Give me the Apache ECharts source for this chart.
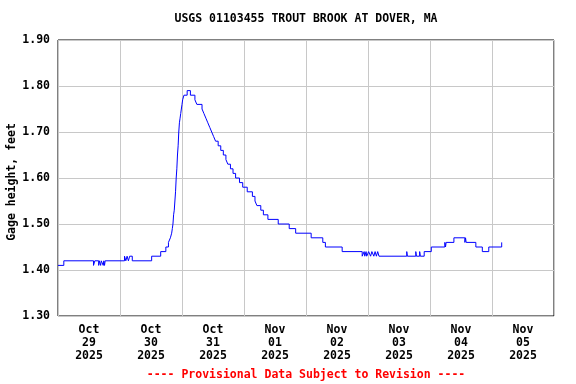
<!DOCTYPE html>
<html>
<head>
<meta charset="utf-8">
<script src="https://cdn.jsdelivr.net/npm/echarts@6/dist/echarts.min.js"></script>
<style>html,body{margin:0;padding:0;background:#fff}#c{width:576px;height:384px}</style>
</head>
<body>
<div id="c"></div>
<script>
const titleText = 'USGS 01103455 TROUT BROOK AT DOVER, MA';
const footerText = '---- Provisional Data Subject to Revision ----';
const yAxisName = 'Gage height, feet';
const dayLabels = ['Oct\n29\n2025','Oct\n30\n2025','Oct\n31\n2025','Nov\n01\n2025','Nov\n02\n2025','Nov\n03\n2025','Nov\n04\n2025','Nov\n05\n2025'];
const xStart = '2025-10-29 00:00';
const xEnd = '2025-11-06 00:00';
const yTicks = [1.30, 1.40, 1.50, 1.60, 1.70, 1.80, 1.90];

// change points (value holds until next time)
const times = [
'2025-10-29 00:00','2025-10-29 02:15','2025-10-29 13:45','2025-10-29 14:15','2025-10-29 15:45','2025-10-29 16:00',
'2025-10-29 16:30','2025-10-29 16:45','2025-10-29 17:30','2025-10-29 17:45','2025-10-29 18:00','2025-10-29 18:15',
'2025-10-30 01:45','2025-10-30 02:15','2025-10-30 02:45','2025-10-30 03:15','2025-10-30 03:45','2025-10-30 04:45',
'2025-10-30 12:15','2025-10-30 15:45','2025-10-30 17:45','2025-10-30 18:45','2025-10-30 19:30','2025-10-30 20:00',
'2025-10-30 20:15','2025-10-30 20:30','2025-10-30 20:45','2025-10-30 21:00','2025-10-30 21:15','2025-10-30 21:30',
'2025-10-30 21:45','2025-10-30 22:00','2025-10-30 22:15','2025-10-30 22:30','2025-10-30 22:45','2025-10-30 23:00',
'2025-10-30 23:15','2025-10-30 23:30','2025-10-30 23:45','2025-10-31 00:00','2025-10-31 00:15','2025-10-31 00:45',
'2025-10-31 02:00','2025-10-31 03:15','2025-10-31 05:00','2025-10-31 05:45','2025-10-31 07:45','2025-10-31 08:30',
'2025-10-31 09:15','2025-10-31 10:00','2025-10-31 10:45','2025-10-31 11:30','2025-10-31 12:15','2025-10-31 13:00',
'2025-10-31 14:00','2025-10-31 15:00','2025-10-31 16:00','2025-10-31 17:00','2025-10-31 17:45','2025-10-31 18:45',
'2025-10-31 19:45','2025-10-31 20:45','2025-10-31 22:15','2025-10-31 23:30','2025-11-01 01:15','2025-11-01 03:15',
'2025-11-01 04:15','2025-11-01 05:00','2025-11-01 06:30','2025-11-01 07:30','2025-11-01 09:15','2025-11-01 13:15',
'2025-11-01 17:30','2025-11-01 20:00','2025-11-02 02:00','2025-11-02 06:30','2025-11-02 07:30','2025-11-02 14:00',
'2025-11-02 21:45','2025-11-02 22:30','2025-11-02 22:45','2025-11-02 23:15','2025-11-02 23:30','2025-11-03 00:15',
'2025-11-03 01:00','2025-11-03 01:30','2025-11-03 02:15','2025-11-03 02:45','2025-11-03 03:15','2025-11-03 03:45',
'2025-11-03 04:15','2025-11-03 15:00','2025-11-03 15:15','2025-11-03 18:30','2025-11-03 18:45','2025-11-03 20:00',
'2025-11-03 20:15','2025-11-03 21:45','2025-11-04 00:30','2025-11-04 05:45','2025-11-04 06:00','2025-11-04 06:15',
'2025-11-04 09:15','2025-11-04 13:30','2025-11-04 13:45','2025-11-04 14:00','2025-11-04 17:45','2025-11-04 20:15',
'2025-11-04 22:45','2025-11-05 03:45','2025-11-05 04:00'
];
const gageHeight = [
1.41,1.42,1.41,1.42,1.41,1.42,
1.41,1.42,1.41,1.42,1.41,1.42,
1.43,1.42,1.43,1.42,1.43,1.42,
1.43,1.44,1.45,1.46,1.47,1.48,
1.49,1.50,1.52,1.53,1.55,1.57,
1.60,1.62,1.65,1.67,1.70,1.72,
1.73,1.74,1.75,1.76,1.77,1.78,
1.79,1.78,1.77,1.76,1.75,1.74,
1.73,1.72,1.71,1.70,1.69,1.68,
1.67,1.66,1.65,1.64,1.63,1.62,
1.61,1.60,1.59,1.58,1.57,1.56,
1.55,1.54,1.53,1.52,1.51,1.50,
1.49,1.48,1.47,1.46,1.45,1.44,
1.43,1.44,1.43,1.44,1.43,1.44,
1.43,1.44,1.43,1.44,1.43,1.44,
1.43,1.44,1.43,1.44,1.43,1.44,
1.43,1.44,1.45,1.46,1.45,1.46,
1.47,1.46,1.47,1.46,1.45,1.44,
1.45,1.46,1.46
];

function toMs(s) {
  const p = s.split(' ');
  return Date.parse(p[0] + 'T' + p[1] + ':00Z');
}
const seriesData = times.map((t, i) => [toMs(t), gageHeight[i]]);

const FONT = 'DejaVu Sans Mono';
const chart = echarts.init(document.getElementById('c'), null, {renderer: 'canvas'});
chart.setOption({
  animation: false,
  backgroundColor: '#fff',
  grid: {left: 58, right: 22, top: 40, bottom: 68, containLabel: false, outerBoundsMode: 'none', show: true, borderColor: '#000', borderWidth: 1, backgroundColor: 'transparent'},
  graphic: [
    {type: 'text', x: 306, y: 19, style: {text: titleText, fill: '#000', font: 'bold 11.5px ' + FONT, textAlign: 'center', textVerticalAlign: 'middle'}},
    {type: 'text', x: 306, y: 375, style: {text: footerText, fill: '#ff0000', font: 'bold 11.5px ' + FONT, textAlign: 'center', textVerticalAlign: 'middle'}},
    {type: 'text', x: 12, y: 182, rotation: Math.PI / 2, style: {text: yAxisName, fill: '#000', font: 'bold 11.5px ' + FONT, textAlign: 'center', textVerticalAlign: 'middle'}}
  ],
  xAxis: [
    {
      type: 'value', min: toMs(xStart), max: toMs(xEnd), interval: 86400000,
      axisLine: {show: false}, axisTick: {show: false}, axisLabel: {show: false},
      splitLine: {show: true, lineStyle: {color: '#c8c8c8', width: 1}}
    },
    {
      type: 'category', data: dayLabels, boundaryGap: true, position: 'bottom',
      axisLine: {show: false}, axisTick: {show: false}, splitLine: {show: false},
      axisLabel: {color: '#000', fontFamily: FONT, fontWeight: 'bold', fontSize: 11.5, lineHeight: 13, margin: 8, interval: 0}
    }
  ],
  yAxis: {
    type: 'value', min: yTicks[0], max: yTicks[yTicks.length - 1], interval: 0.1,
    axisLine: {show: false}, axisTick: {show: false},
    axisLabel: {color: '#000', fontFamily: FONT, fontWeight: 'bold', fontSize: 11.5, margin: 8, formatter: v => v.toFixed(2)},
    splitLine: {show: true, lineStyle: {color: '#c8c8c8', width: 1}}
  },
  series: [{
    type: 'line', xAxisIndex: 0, data: seriesData, step: 'end', showSymbol: false,
    lineStyle: {color: '#0000ff', width: 1}, itemStyle: {color: '#0000ff'}
  }]
});
</script>
</body>
</html>
